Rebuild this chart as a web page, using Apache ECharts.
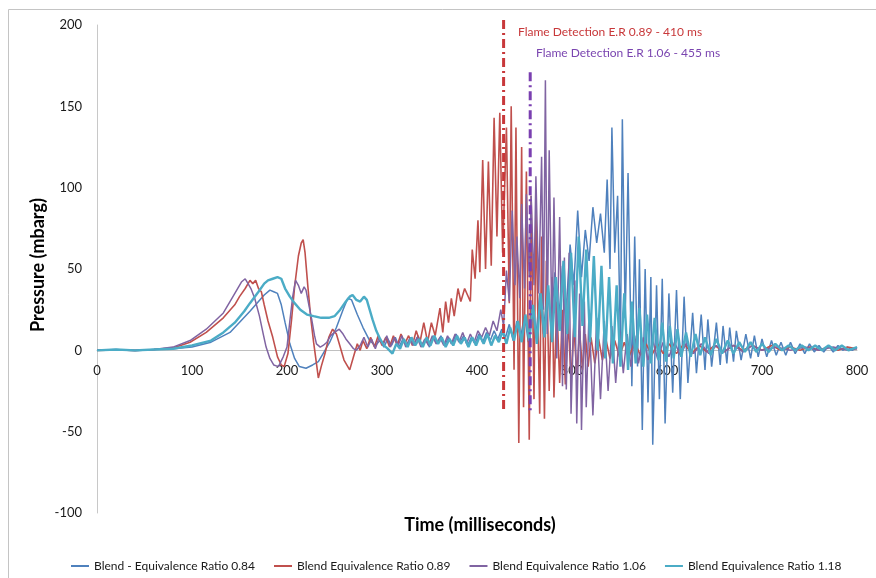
<!DOCTYPE html>
<html>
<head>
<meta charset="utf-8">
<script src="https://cdn.jsdelivr.net/npm/echarts@6/dist/echarts.min.js"></script>
<style>
html,body{margin:0;padding:0;background:#fff;}
#chart{width:876px;height:578px;}
</style>
</head>
<body>
<div id="chart"></div>
<script>
// ---- Data (time in ms, pressure in mbarg) ----
const seriesNames = [
  'Blend - Equivalence Ratio 0.84',
  'Blend Equivalence Ratio 0.89',
  'Blend Equivalence Ratio 1.06',
  'Blend Equivalence Ratio 1.18'
];
const xTicks = [0,100,200,300,400,500,600,700,800];
const yTicks = [-100,-50,0,50,100,150,200];
const xTitle = 'Time (milliseconds)';
const yTitle = 'Pressure (mbarg)';

const blend084 = [[0,0],[20,0.5],[40,-0.3],[60,0.5],[80,1],[100,2],[120,5],[140,11],[161,24],[170,30],[176,34],[182,37],[186,36],[190,35],[194,28],[198,17],[203,4],[208,-5],[213,-10],[220,-11],[227,-9],[233,-7],[238,-2],[245,5],[252,14],[259,25],[264,32],[268,31],[274,22],[280,14],[287,6],[293,3],
[298,6],[302,2],[306,7],[310,3],[314,8],[318,2],[322,7],[326,3],[330,8],[334,4],[338,9],[342,3],[346,7],[350,2],[354,8],[358,4],[362,9],[366,3],[370,8],[374,4],[378,10],[382,5],[386,9],[390,3],[394,8],[398,4],[402,10],[406,5],[410,11],[414,6],[418,12],[422,7],[426,13],[430,8],
[434,16],[438,6],[442,18],[446,8],[450,22],[454,5],[458,28],[462,8],[466,35],[470,10],[474,40],[478,15],[482,48],[486,18],[490,52],[494,25],[498,65],[502,40],[506,86],[510,45],[514,74],[518,55],[522,88],[526,66],[530,84],[534,60],[537,105],[540,50],[542,137],[545,60],[548,95],[551,4],[553,142],[556,20],[559,109],[563,-22],[566,70],[569,-10],[571,56],[574,-49],[577,50],[580,-32],[583,45],[585,-58],[589,40],[592,-30],[595,44],[598,-45],[602,35],[606,-26],[610,37],[614,-30],[618,33],[622,-20],[627,23],[631,-14],[636,22],[640,-12],[643,19],[647,-10],[652,17],[656,-9],[659,15],[663,-8],[666,14],[670,-7],[673,12],[678,-6],[683,10],[688,-5],[692,9],[696,-4],[700,7],[705,-4],[710,6],[715,-3],[720,5],[725,-3],[730,5],[735,-2],[740,4],[745,-2],[750,4],[755,-1],[760,3],[765,-1],[770,3],[775,-1],[780,3],[785,0],[790,2],[795,0],[800,2]];

const blend089 = [[0,0],[20,0.3],[40,0],[60,0.5],[80,1.5],[98,5],[115,11],[133,20],[145,28],[150,33],[156,38],[161,43],[164,41],[167,43],[170,38],[173,36],[176,28],[180,18],[185,8],[190,-4],[194,-9],[197,-10],[201,-2],[205,20],[208,39],[212,58],[215,66],[217,68],[219,60],[222,39],[225,20],[228,5],[231,-8],[233,-17],[236,-10],[240,-2],[244,8],[248,13],[252,10],[256,2],[260,-6],[264,-10],[266,-12],[270,-4],[274,4],[277,0],[280,6],[284,1],[288,8],[292,2],[296,9],[300,3],[304,8],[308,2],[312,9],[316,3],[320,10],[324,4],[328,9],[332,3],[336,12],[340,5],[344,17],[348,5],[352,17],[356,9],[361,26],[364,11],[367,30],[370,17],[373,32],[376,21],[380,38],[383,30],[387,38],[390,34],[393,30],[395,62],[398,44],[401,80],[403,48],[406,117],[409,50],[412,116],[415,52],[418,143],[421,70],[424,146],[427,60],[431,137],[434,29],[436,150],[439,-12],[441,137],[444,-57],[447,125],[449,-35],[452,110],[455,-55],[457,95],[460,-30],[462,85],[466,-39],[468,70],[471,-42],[473,55],[476,-25],[479,45],[481,-29],[484,30],[487,-20],[490,25],[493,-21],[496,18],[499,-18],[502,15],[505,-15],[508,12],[511,-12],[514,10],[517,-10],[520,8],[524,-8],[528,7],[532,-6],[536,6],[540,-5],[545,6],[550,-4],[555,5],[560,-4],[566,5],[572,-3],[578,4],[584,-3],[590,4],[596,-2],[602,4],[610,-2],[618,4],[626,-2],[634,3],[642,-1],[650,3],[660,-1],[670,3],[680,0],[690,3],[700,0],[710,3],[720,0],[730,2],[740,0],[750,2],[760,0],[770,2],[780,0],[790,2],[800,1]];

const blend106 = [[0,0],[20,0.3],[40,0],[60,0.5],[80,2],[98,6],[115,13],[133,23],[142,32],[148,38],[152,42],[156,44],[159,41],[162,38],[166,32],[171,21],[175,10],[178,2],[182,-5],[186,-9],[191,-10],[196,-4],[200,2],[203,18],[206,33],[209,43],[212,40],[215,35],[218,39],[220,37],[223,28],[226,19],[229,9],[231,4],[235,2],[238,3],[242,5],[246,9],[250,11],[255,13],[259,10],[262,7],[266,4],[270,1],[273,0],[277,3],[281,8],[285,2],[289,7],[293,1],[297,8],[301,3],[305,9],[309,2],[313,8],[317,3],[321,9],[325,2],[329,7],[333,3],[337,8],[341,2],[345,7],[349,3],[353,9],[357,4],[361,8],[365,3],[369,9],[373,4],[377,10],[381,5],[385,11],[389,4],[393,10],[397,5],[401,12],[405,8],[409,14],[413,9],[417,18],[421,12],[425,25],[428,15],[431,49],[434,30],[437,86],[440,40],[442,70],[445,32],[447,90],[450,38],[452,96],[455,45],[457,95],[460,40],[462,107],[465,35],[468,119],[470,25],[472,166],[474,10],[476,123],[479,8],[481,94],[484,-5],[487,82],[490,-22],[492,57],[494,-24],[497,60],[499,-39],[503,43],[505,-45],[508,35],[510,-49],[513,30],[515,-35],[518,25],[522,-40],[526,20],[530,-30],[534,18],[538,-25],[542,15],[546,-20],[550,12],[554,-14],[558,10],[562,-10],[566,9],[570,-8],[575,8],[580,-6],[585,6],[590,-5],[596,5],[602,-4],[608,5],[614,-3],[620,4],[628,-2],[636,4],[644,-2],[652,3],[660,-1],[670,3],[680,-1],[690,3],[700,0],[715,2],[730,0],[745,2],[760,0],[775,2],[790,0],[800,1]];

const blend118 = [[0,0],[20,0.5],[40,0],[60,0.5],[80,1],[100,3],[120,6],[133,11],[145,17],[155,24],[161,29],[170,36],[176,41],[180,43],[185,44],[190,45],[194,44],[198,38],[203,33],[208,29],[214,25],[221,22],[228,21],[236,20],[244,20],[250,21],[256,25],[262,30],[266,33],[269,34],[273,31],[277,30],[281,33],[284,31],[287,25],[290,19],[294,12],[298,7],[302,3],[306,1],[311,-2],[315,4],[319,1],[323,7],[327,2],[331,8],[335,3],[339,7],[343,2],[347,8],[351,3],[355,9],[359,4],[363,8],[367,2],[371,7],[375,3],[379,9],[383,4],[387,8],[391,2],[395,8],[399,3],[403,9],[407,4],[411,10],[415,3],[419,9],[423,5],[427,12],[431,4],[435,14],[439,6],[443,18],[447,5],[451,22],[455,6],[459,28],[463,4],[467,35],[471,8],[475,40],[479,5],[483,45],[487,12],[491,55],[495,10],[499,60],[503,8],[507,70],[511,15],[515,62],[519,5],[523,58],[527,0],[531,52],[535,-5],[539,45],[543,-8],[547,40],[551,-10],[555,35],[559,-12],[563,30],[567,-8],[571,26],[575,-10],[579,22],[583,-8],[587,20],[591,-6],[595,17],[599,-7],[603,15],[607,-5],[611,13],[615,-4],[620,11],[625,-4],[630,10],[635,-3],[640,8],[646,-3],[652,7],[658,-2],[664,6],[670,-2],[676,5],[682,-1],[688,5],[694,-1],[700,4],[707,-1],[714,4],[721,0],[728,3],[735,0],[742,3],[749,0],[756,3],[763,0],[770,3],[777,0],[784,3],[791,0],[800,2]];

// Flame detection markers: [time, top pressure, bottom pressure]
const flameRed = [428, 203, -37];
const flamePurple = [456, 171, -37];
const flameTexts = ['Flame Detection E.R 0.89 - 410 ms', 'Flame Detection E.R 1.06 - 455 ms'];

const colors = ['#4F81BD', '#C0504D', '#8064A2', '#4BACC6'];
const widths = [1.5, 1.6, 1.5, 2.4];
const seriesData = [blend084, blend089, blend106, blend118];

const FONT = 'Lato, "Open Sans", sans-serif';
const chart = echarts.init(document.getElementById('chart'), null, {renderer: 'canvas'});

const series = seriesData.map((d, i) => ({
  name: seriesNames[i],
  type: 'line',
  data: d,
  showSymbol: false,
  symbol: 'none',
  lineStyle: {color: colors[i], width: widths[i]},
  itemStyle: {color: colors[i]},
  z: 2 + i,
  animation: false
}));

function flameLine(f, color) {
  return {
    type: 'line',
    data: [[f[0], f[1]], [f[0], f[2]]],
    showSymbol: false,
    symbol: 'none',
    clip: false,
    silent: true,
    lineStyle: {color: color, width: 3, type: [9, 4, 2, 4]},
    z: 10,
    animation: false
  };
}
series.push(flameLine(flameRed, '#C8383A'));
series.push(flameLine(flamePurple, '#7A3FB0'));

// grid: top 25, bottom edge 513 -> zero line sits 200/300 of the way down
const gridTop = 25, gridBottom = 513;
const zeroOffset = -(gridBottom - (gridTop + (gridBottom - gridTop) * 200 / 300));

chart.setOption({
  backgroundColor: '#ffffff',
  animation: false,
  grid: {left: 97, right: 19, top: gridTop, bottom: 578 - gridBottom, containLabel: false, outerBoundsMode: 'none'},
  xAxis: {
    type: 'value',
    position: 'bottom',
    offset: zeroOffset,
    min: xTicks[0], max: xTicks[xTicks.length - 1], interval: 100,
    axisLine: {onZero: false, lineStyle: {color: '#c0c0c0', width: 1}},
    axisTick: {show: false},
    splitLine: {show: false},
    axisLabel: {margin: 14, fontFamily: FONT, fontSize: 13, color: '#1a1a1a'}
  },
  yAxis: {
    type: 'value',
    min: yTicks[0], max: yTicks[yTicks.length - 1], interval: 50,
    axisLine: {show: true, lineStyle: {color: '#c8c8c8', width: 1}},
    axisTick: {show: false},
    splitLine: {show: false},
    axisLabel: {margin: 15, fontFamily: FONT, fontSize: 13, color: '#1a1a1a'}
  },
  legend: {
    data: seriesNames,
    top: 555,
    left: 66,
    itemWidth: 18,
    itemHeight: 10,
    itemGap: 19,
    icon: 'path://M0,4 L18,4 L18,6 L0,6 Z',
    textStyle: {fontFamily: FONT, fontSize: 12, color: '#1a1a1a'}
  },
  graphic: [
    {type: 'rect', shape: {x: 8.5, y: 9.5, width: 900, height: 600}, style: {fill: 'none', stroke: '#c4c4c4', lineWidth: 1}, silent: true, z: -1},
    {type: 'text', left: 518, top: 26, style: {text: flameTexts[0], fill: '#C8383A', font: '12px ' + FONT}},
    {type: 'text', left: 536, top: 47, style: {text: flameTexts[1], fill: '#7A45B0', font: '12px ' + FONT}},
    {type: 'text', x: 480, y: 525, style: {text: xTitle, fill: '#000', font: 'bold 18px ' + FONT, align: 'center', verticalAlign: 'middle'}},
    {type: 'text', x: 38, y: 265, rotation: Math.PI / 2, style: {text: yTitle, fill: '#000', font: 'bold 18px ' + FONT, align: 'center', verticalAlign: 'middle'}}
  ],
  series: series
});
</script>
</body>
</html>
